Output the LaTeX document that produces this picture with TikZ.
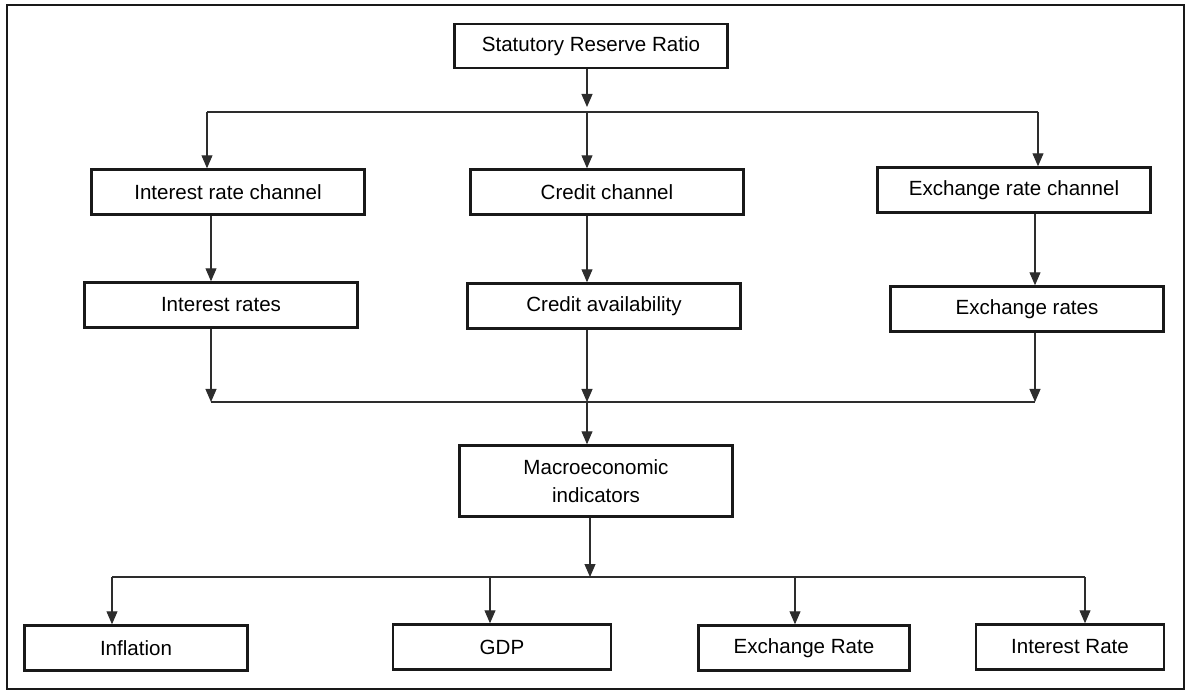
\documentclass[tikz,border=0pt]{standalone}
\definecolor{BoxColor}{RGB}{25,25,25}
\definecolor{LinkColor}{RGB}{45,45,45}
\usepackage{fontspec}
\setmainfont{Liberation Sans}
\usepackage{tikz}
\usetikzlibrary{positioning, arrows.meta}
\tikzstyle{link} = [line width=0.6pt, LinkColor]
\tikzstyle{arrow} = [line width=0.6pt, LinkColor, -{Triangle[width=0.22cm,length=0.26cm]}]
\tikzset{
  box/.style={rectangle, draw=BoxColor, line width=1.4pt, fill=white, inner sep=0pt,
    minimum height=0.9cm, font=\fontsize{11.7}{16}\selectfont},
  wide box/.style={box, minimum width=5.46cm},
  frame/.style={draw=BoxColor, line width=1.3pt}
}
\begin{document}
\begin{tikzpicture}[x=0.02cm, y=-0.02cm]
    \useasboundingbox (0,0) rectangle (1191,695);
    \draw[frame] (7,5) rectangle (1184,689);

    % Policy instrument
    \node[wide box, minimum height=0.88cm] (srr) at (591,46) {Statutory Reserve Ratio};

    % Transmission channels
    \node[wide box] (irc) at (228,192) {Interest rate channel};
    \node[wide box] (cc) at (607,192) {Credit channel};
    \node[wide box] (erc) at (1014,190) {Exchange rate channel};

    % Intermediate variables
    \node[wide box] (ir) at (221,305) {Interest rates};
    \node[wide box] (ca) at (604,306) {Credit availability};
    \node[wide box] (er) at (1027,309) {Exchange rates};

    % Outcome
    \node[wide box, minimum height=1.42cm, align=center] (macro) at (596,481) {Macroeconomic\\indicators};

    % Indicators
    \node[box, minimum width=4.46cm] (infl) at (136,648) {Inflation};
    \node[box, minimum width=4.36cm] (gdp) at (502,647) {GDP};
    \node[box, minimum width=4.22cm] (exr) at (804,648) {Exchange Rate};
    \node[box, minimum width=3.76cm] (intr) at (1070,647) {Interest Rate};

    % Branch points
    \coordinate (jl) at (207,112);
    \coordinate (jc) at (587,112);
    \coordinate (jr) at (1038,112);
    \coordinate (kl) at (211,402);
    \coordinate (kc) at (587,402);
    \coordinate (kr) at (1035,402);
    \coordinate (ml) at (112,577);
    \coordinate (mg) at (490,577);
    \coordinate (mc) at (590,577);
    \coordinate (me) at (795,577);
    \coordinate (mr) at (1085,577);

    % Ratio to channels
    \draw[arrow] (srr.south -| jc) -- ([yshift=0.1cm]jc);
    \draw[link] (jl) -- (jr);
    \draw[arrow] (jl) -- (irc.north -| jl);
    \draw[arrow] (jc) -- (cc.north -| jc);
    \draw[arrow] (jr) -- (erc.north -| jr);

    % Channels to variables
    \draw[arrow] (irc.south -| kl) -- (ir.north -| kl);
    \draw[arrow] (cc.south -| kc) -- (ca.north -| kc);
    \draw[arrow] (erc.south -| kr) -- (er.north -| kr);

    % Variables to macro indicators
    \draw[arrow] (ir.south -| kl) -- (kl);
    \draw[arrow] (ca.south -| kc) -- (kc);
    \draw[arrow] (er.south -| kr) -- (kr);
    \draw[link] (kl) -- (kr);
    \draw[arrow] (kc) -- (macro.north -| kc);

    % Macro indicators to outcomes
    \draw[arrow] (macro.south -| mc) -- (mc);
    \draw[link] (ml) -- (mr);
    \draw[arrow] (ml) -- (infl.north -| ml);
    \draw[arrow] (mg) -- (gdp.north -| mg);
    \draw[arrow] (me) -- (exr.north -| me);
    \draw[arrow] (mr) -- (intr.north -| mr);
\end{tikzpicture}
\end{document}
